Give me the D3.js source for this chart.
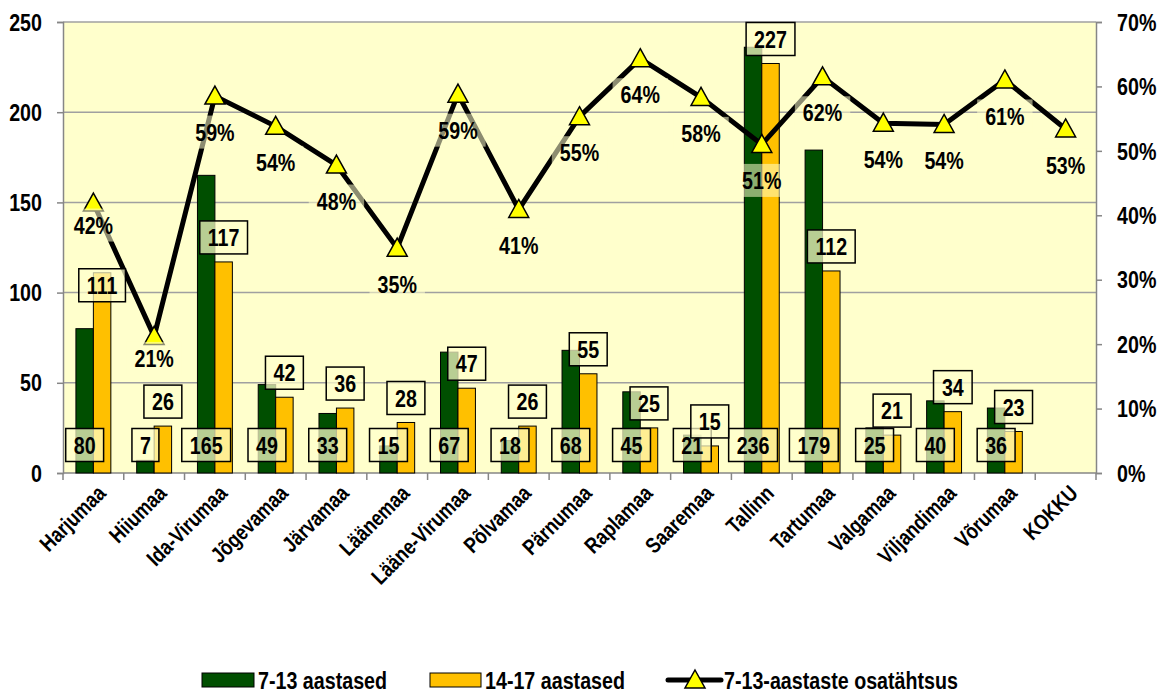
<!DOCTYPE html>
<html>
<head>
<meta charset="utf-8">
<script src="https://cdn.jsdelivr.net/npm/d3@7"></script>
<style>
  html, body { margin: 0; padding: 0; background: #ffffff; }
  svg text { font-family: 'Liberation Sans', Arial, sans-serif; font-weight: bold; fill: #000; }
</style>
</head>
<body>
<svg id="chart" width="1164" height="691"></svg>
<script>
// ---- data ----
const categories = ["Harjumaa","Hiiumaa","Ida-Virumaa","Jõgevamaa","Järvamaa","Läänemaa","Lääne-Virumaa","Põlvamaa","Pärnumaa","Raplamaa","Saaremaa","Tallinn","Tartumaa","Valgamaa","Viljandimaa","Võrumaa","KOKKU"];
const age7to13 = [80,7,165,49,33,15,67,18,68,45,21,236,179,25,40,36,null];
const age14to17 = [111,26,117,42,36,28,47,26,55,25,15,227,112,21,34,23,null];
const share7to13 = [41.9,21.2,58.5,53.8,47.8,34.9,58.8,40.9,55.3,64.3,58.3,51.0,61.5,54.3,54.1,61.0,53.4];
const shareLabels = ["42%","21%","59%","54%","48%","35%","59%","41%","55%","64%","58%","51%","62%","54%","54%","61%","53%"];
const leftTicks = [0,50,100,150,200,250];
const rightTicks = [0,10,20,30,40,50,60,70];
const seriesNames = ["7-13 aastased","14-17 aastased","7-13-aastaste osatähtsus"];

// ---- layout ----
const plot = {left: 63, right: 1096, top: 22, bottom: 473};
const colGreen = "#004f00", colYellow = "#ffc000", bg = "#ffffcc", gridCol = "#a0a0a0", axisCol = "#868686";
const fontNum = 24, fontCat = 22, fontLeg = 24;
const NARROW = 0.82; // horizontal squeeze to mimic a narrow bold face

const svg = d3.select("#chart");

// narrow text helper: places text at (x,y) with optional rotation
function ntext(parent, x, y, str, size, anchor, rot) {
  return parent.append("text")
    .attr("transform", `translate(${x},${y})` + (rot ? ` rotate(${rot})` : "") + ` scale(${NARROW},1)`)
    .attr("text-anchor", anchor || "start").attr("dy", "0.36em")
    .style("font-size", size + "px").text(str);
}

const x = d3.scaleBand().domain(categories).range([plot.left, plot.right]).padding(0);
const xs = d3.scaleBand().domain(["g","y"]).range([0, x.bandwidth()]).paddingInner(0).paddingOuter(0.74);
const yL = d3.scaleLinear().domain([0,250]).range([plot.bottom, plot.top]);
const yR = d3.scaleLinear().domain([0,70]).range([plot.bottom, plot.top]);

// background
svg.append("rect").attr("x", plot.left).attr("y", plot.top)
  .attr("width", plot.right - plot.left).attr("height", plot.bottom - plot.top).attr("fill", bg);

// gridlines
svg.append("g").selectAll("line").data(leftTicks.filter(d => d > 0)).join("line")
  .attr("x1", plot.left).attr("x2", plot.right)
  .attr("y1", d => yL(d)).attr("y2", d => yL(d))
  .attr("stroke", gridCol).attr("stroke-width", 1.5);

// left axis
const axL = svg.append("g").attr("transform", `translate(${plot.left},0)`)
  .call(d3.axisLeft(yL).tickValues(leftTicks).tickSize(6).tickFormat(""));
axL.select(".domain").attr("stroke", axisCol).attr("stroke-width", 1.5);
axL.selectAll(".tick line").attr("stroke", axisCol).attr("stroke-width", 1.5);
leftTicks.forEach(t => ntext(svg, 42, yL(t), String(t), fontNum, "end"));

// right axis
const axR = svg.append("g").attr("transform", `translate(${plot.right},0)`)
  .call(d3.axisRight(yR).tickValues(rightTicks).tickSize(6).tickFormat(""));
axR.select(".domain").attr("stroke", axisCol).attr("stroke-width", 1.5);
axR.selectAll(".tick line").attr("stroke", axisCol).attr("stroke-width", 1.5);
rightTicks.forEach(t => ntext(svg, 1117, yR(t), t + "%", fontNum, "start"));

// bottom axis
svg.append("line").attr("x1", plot.left).attr("x2", plot.right).attr("y1", plot.bottom).attr("y2", plot.bottom)
  .attr("stroke", axisCol).attr("stroke-width", 1.5);
const boundaries = categories.map(c => x(c)).concat([x(categories[categories.length-1]) + x.bandwidth()]);
svg.append("g").selectAll("line").data(boundaries).join("line")
  .attr("x1", d => d).attr("x2", d => d).attr("y1", plot.bottom).attr("y2", plot.bottom + 7)
  .attr("stroke", axisCol).attr("stroke-width", 1.5);

// category labels
const catG = svg.append("g");
categories.forEach(c => ntext(catG, x(c) + x.bandwidth()/2 + 8, plot.bottom + 16, c, fontCat, "end", -45));

// bars
const bars = svg.append("g");
categories.forEach((c, i) => {
  if (age7to13[i] != null) {
    bars.append("rect").attr("x", x(c) + xs("g")).attr("width", xs.bandwidth())
      .attr("y", yL(age7to13[i])).attr("height", yL(0) - yL(age7to13[i]))
      .attr("fill", colGreen).attr("stroke", "#000").attr("stroke-width", 1);
  }
  if (age14to17[i] != null) {
    bars.append("rect").attr("x", x(c) + xs("y")).attr("width", xs.bandwidth())
      .attr("y", yL(age14to17[i])).attr("height", yL(0) - yL(age14to17[i]))
      .attr("fill", colYellow).attr("stroke", "#000").attr("stroke-width", 1);
  }
});

// line
const pts = categories.map((c, i) => [x(c) + x.bandwidth()/2, yR(share7to13[i])]);
svg.append("path").attr("d", d3.line()(pts)).attr("fill", "none")
  .attr("stroke", "#000").attr("stroke-width", 5).attr("stroke-linejoin", "miter");

const triPath = "M0,-10 L10,8 L-10,8 Z";
svg.append("g").selectAll("path").data(pts).join("path")
  .attr("transform", d => `translate(${d[0]},${d[1]})`)
  .attr("d", triPath).attr("fill", "#ffff00").attr("stroke", "#000").attr("stroke-width", 1.5);

// label helper
const labels = svg.append("g");
function boxLabel(cx, cy, txt, withBorder, opacity) {
  const g = labels.append("g");
  const t = ntext(g, cx, cy, txt, fontNum, "middle");
  const w = t.node().getBBox().width * NARROW;
  const padX = 8, h = 33;
  g.insert("rect", "text").attr("x", cx - w/2 - padX).attr("y", cy - h/2)
    .attr("width", w + 2*padX).attr("height", h)
    .attr("fill", bg).attr("fill-opacity", opacity)
    .attr("stroke", withBorder ? "#000" : "none").attr("stroke-width", 1.5);
}

// percentage labels (below markers)
const pctNudge = {0: -14, 1: -14};
pts.forEach((p, i) => {
  boxLabel(p[0], p[1] + 36 + (pctNudge[i] || 0), shareLabels[i], false, 0.55);
});

// value labels
const yellowNudge = {0: 37};
categories.forEach((c, i) => {
  if (age7to13[i] != null) {
    boxLabel(x(c) + xs("g") + xs.bandwidth()/2, plot.bottom - 28, String(age7to13[i]), true, 0.72);
  }
});
categories.forEach((c, i) => {
  if (age14to17[i] != null) {
    boxLabel(x(c) + xs("y") + xs.bandwidth()/2, yL(age14to17[i]) - 8 - 16.5 + (yellowNudge[i] || 0), String(age14to17[i]), true, 0.72);
  }
});

// legend
const legY = 680;
const leg = svg.append("g");
leg.append("rect").attr("x", 202).attr("y", legY - 7).attr("width", 52).attr("height", 14)
  .attr("fill", colGreen).attr("stroke", "#000").attr("stroke-width", 1);
ntext(leg, 258, legY, seriesNames[0], fontLeg, "start");
leg.append("rect").attr("x", 430).attr("y", legY - 7).attr("width", 51).attr("height", 14)
  .attr("fill", colYellow).attr("stroke", "#000").attr("stroke-width", 1);
ntext(leg, 485, legY, seriesNames[1], fontLeg, "start");
leg.append("line").attr("x1", 668).attr("x2", 721).attr("y1", legY).attr("y2", legY)
  .attr("stroke", "#000").attr("stroke-width", 5).attr("stroke-linecap", "round");
leg.append("path").attr("transform", `translate(695,${legY})`).attr("d", triPath)
  .attr("fill", "#ffff00").attr("stroke", "#000").attr("stroke-width", 1.5);
ntext(leg, 724, legY, seriesNames[2], fontLeg, "start");
</script>
</body>
</html>
